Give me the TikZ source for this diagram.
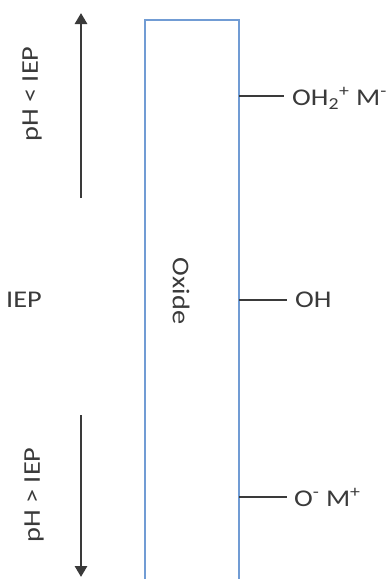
\documentclass[tikz,border=0pt]{standalone}
\usepackage{fontspec}
\setmainfont{Carlito}
\usetikzlibrary{arrows.meta}
\definecolor{oxblue}{HTML}{719CD4}
\definecolor{dgray}{HTML}{3A3A3A}
\newcommand\widetxt[1]{\scalebox{1.18}[1]{#1}}
\begin{document}
\begin{tikzpicture}[x=1pt,y=-1pt,
  lbl/.style={font=\fontsize{24}{28}\selectfont, text=dgray, inner sep=0pt},
  phline/.style={draw=dgray, line width=2.8pt, -{Triangle[length=11pt,width=12pt]}},
  tick/.style={draw=dgray, line width=1.5pt}]
\useasboundingbox (0,0) rectangle (388,579);
% oxide column (open at bottom)
\draw[oxblue, line width=2.8pt] (145,581) -- (145,20) -- (239,20) -- (239,581);
\node[lbl, rotate=-90] (ox) at (181,291) {\widetxt{Oxide}};
% arrows
\coordinate (a1s) at (81,198);
\coordinate (a1e) at (81,13);
\coordinate (a2s) at (81,415);
\coordinate (a2e) at (81,577);
\draw[phline] (a1s) -- (a1e);
\draw[phline] (a2s) -- (a2e);
\node[lbl, rotate=90] (lt) at (32,94) {\widetxt{pH < IEP}};
\node[lbl, rotate=90] (gt) at (34,495) {\widetxt{pH > IEP}};
\node[lbl] (iep) at (24,300) {\widetxt{IEP}};
% surface groups
\coordinate (t1) at (239,96);
\coordinate (t2) at (239,300);
\coordinate (t3) at (239,497);
\coordinate (e1) at (284,96);
\coordinate (e2) at (287,300);
\coordinate (e3) at (287,497);
\node[lbl, anchor=west] (g1) at (292,98) {\widetxt{OH\textsubscript{2}\textsuperscript{+} M\textsuperscript{-}}};
\node[lbl, anchor=west] (g2) at (295,300) {\widetxt{OH}};
\node[lbl, anchor=west] (g3) at (294,497) {\widetxt{O\textsuperscript{-} M\textsuperscript{+}}};
\draw[tick] (t1) -- (e1);
\draw[tick] (t2) -- (e2);
\draw[tick] (t3) -- (e3);
\end{tikzpicture}
\end{document}
